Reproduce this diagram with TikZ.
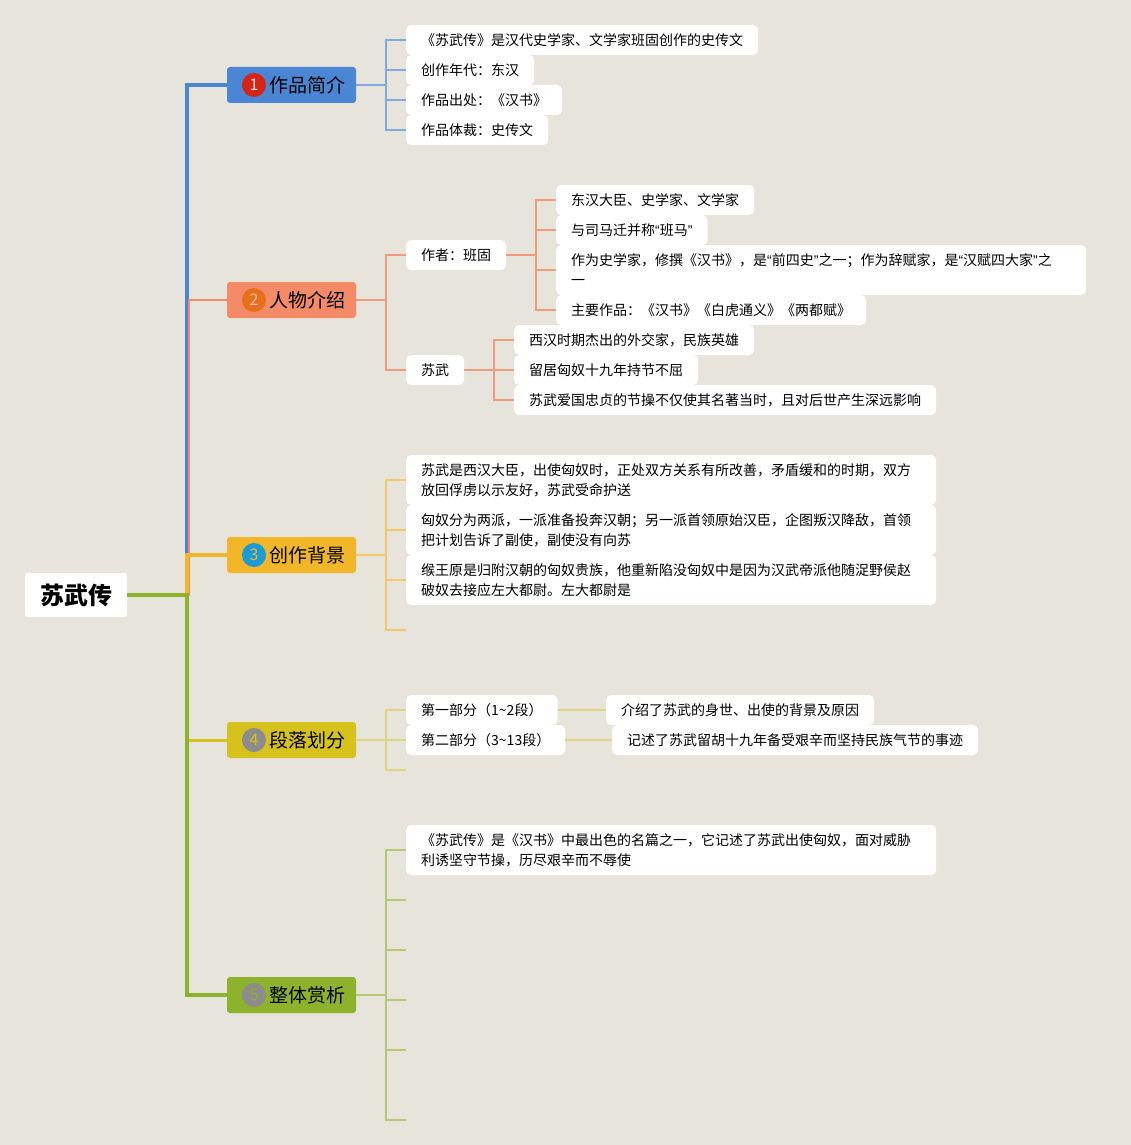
\documentclass[tikz,border=0pt]{standalone}
\usepackage{fontspec}
\setmainfont{Noto Sans CJK SC}
\newfontfamily\quotefont{Liberation Sans}
\newcommand{\cq}[1]{{\quotefont “}#1{\quotefont ”}}
\usetikzlibrary{positioning}

\definecolor{paper}{HTML}{E7E4DC}
\definecolor{topicblue}{HTML}{4B86D5}
\definecolor{topicsalmon}{HTML}{F48A67}
\definecolor{topicamber}{HTML}{F2B729}
\definecolor{topicolive}{HTML}{D5C21D}
\definecolor{topicgreen}{HTML}{8DB22B}
\definecolor{twigblue}{HTML}{82A9DE}
\definecolor{twigsalmon}{HTML}{F09A7E}
\definecolor{twigamber}{HTML}{F4C866}
\definecolor{twigolive}{HTML}{E0D480}
\definecolor{twiggreen}{HTML}{B5C874}
\definecolor{badgered}{HTML}{D62415}
\definecolor{badgeorange}{HTML}{E8701C}
\definecolor{badgeblue}{HTML}{1C9AD6}
\definecolor{badgegray}{HTML}{8C8C8C}

\begin{document}
\begin{tikzpicture}[
    x=1pt, y=-1pt,
    root/.style={fill=white, rounded corners=2pt, minimum width=102pt, minimum height=44pt,
      font=\fontsize{24}{28}\selectfont\bfseries},
    topic/.style={rounded corners=3pt, minimum width=129pt, minimum height=36pt, inner sep=0pt,
      font=\fontsize{19}{22}\selectfont},
    badge/.style={circle, minimum size=24pt, inner sep=0pt, font=\fontsize{16}{18}\selectfont},
    leaf/.style={fill=white, rounded corners=5pt, anchor=west, minimum height=30pt,
      inner xsep=15pt, inner ysep=0pt, font=\fontsize{14}{20}\selectfont},
    para/.style={leaf, minimum height=50pt, text width=500pt, align=left},
    trunk/.style={line width=4pt},
    twig/.style={line width=1.5pt}
  ]
    \fill[paper] (0,0) rectangle (1131,1145);
    \useasboundingbox (0,0) rectangle (1131,1145);

    % centre and main topics
    \node[root] (root) at (76,595) {苏武传};
    \coordinate (spine) at (187,595);
    \coordinate (spine2) at (189,595);

    \node[topic, fill=topicblue] (intro) at (291.5,85) {\hspace{31pt}作品简介};
    \node[topic, fill=topicsalmon] (people) at (291.5,300) {\hspace{31pt}人物介绍};
    \node[topic, fill=topicamber] (backgr) at (291.5,555) {\hspace{31pt}创作背景};
    \node[topic, fill=topicolive] (parts) at (291.5,740) {\hspace{31pt}段落划分};
    \node[topic, fill=topicgreen] (review) at (291.5,995) {\hspace{31pt}整体赏析};

    \node[badge, fill=badgered, text=white!85!red] (num1) at (254,85) {1};
    \node[badge, fill=badgeorange, text=topicsalmon!60!white] (num2) at (254,300) {2};
    \node[badge, fill=badgeblue, text=topicamber] (num3) at (254,555) {3};
    \node[badge, fill=badgegray, text=topicolive] (num4) at (254,740) {4};
    \node[badge, fill=badgegray, text=topicgreen] (num5) at (254,995) {5};

    \draw[trunk, topicblue] (root.east) -- (spine) |- (intro);
    \draw[line width=2pt, topicsalmon] (root.east) -- (spine2) |- (people);
    \draw[trunk, topicamber] (root.east) -- (spine) |- (backgr);
    \draw[line width=3pt, topicolive] (root.east) -- (spine) |- (parts);
    \draw[trunk, topicgreen] (root.east) -- (spine) |- (review);

    % 作品简介
    \coordinate (introhub) at (386,85);
    \node[leaf] (author) at (406,40) {《苏武传》是汉代史学家、文学家班固创作的史传文};
    \node[leaf] (era) at (406,70) {创作年代：东汉};
    \node[leaf] (source) at (406,100) {作品出处：《汉书》};
    \node[leaf] (genre) at (406,130) {作品体裁：史传文};
    \draw[twig, twigblue] (intro.east) -- (introhub);
    \foreach \n in {author,era,source,genre}
      \draw[twig, twigblue] (introhub) |- (\n);

    % 人物介绍
    \coordinate (peoplehub) at (386,300);
    \node[leaf] (bangu) at (406,255) {作者：班固};
    \node[leaf] (suwu) at (406,370) {苏武};
    \draw[twig, twigsalmon] (people.east) -- (peoplehub);
    \draw[twig, twigsalmon] (peoplehub) |- (bangu);
    \draw[twig, twigsalmon] (peoplehub) |- (suwu);

    \coordinate (banguhub) at (536,255);
    \node[leaf] (bgrole) at (556,200) {东汉大臣、史学家、文学家};
    \node[leaf] (bgname) at (556,230) {与司马迁并称\cq{班马}};
    \node[para] (bgfame) at (556,270) {作为史学家，修撰《汉书》，是\cq{前四史}之一；作为辞赋家，是\cq{汉赋四大家}之\\一};
    \node[leaf] (bgworks) at (556,310) {主要作品：《汉书》《白虎通义》《两都赋》};
    \draw[twig, twigsalmon] (bangu.east) -- (banguhub);
    \foreach \n in {bgrole,bgname,bgfame,bgworks}
      \draw[twig, twigsalmon] (banguhub) |- (\n);

    \coordinate (suwuhub) at (494,370);
    \node[leaf] (swrole) at (514,340) {西汉时期杰出的外交家，民族英雄};
    \node[leaf] (swstay) at (514,370) {留居匈奴十九年持节不屈};
    \node[leaf] (swfame) at (514,400) {苏武爱国忠贞的节操不仅使其名著当时，且对后世产生深远影响};
    \draw[twig, twigsalmon] (suwu.east) -- (suwuhub);
    \foreach \n in {swrole,swstay,swfame}
      \draw[twig, twigsalmon] (suwuhub) |- (\n);

    % 创作背景
    \coordinate (backgrhub) at (386,555);
    \node[para] (bgone) at (406,480) {苏武是西汉大臣，出使匈奴时，正处双方关系有所改善，矛盾缓和的时期，双方\\放回俘虏以示友好，苏武受命护送};
    \node[para] (bgtwo) at (406,530) {匈奴分为两派，一派准备投奔汉朝；另一派首领原始汉臣，企图叛汉降敌，首领\\把计划告诉了副使，副使没有向苏};
    \node[para] (bgthree) at (406,580) {缑王原是归附汉朝的匈奴贵族，他重新陷没匈奴中是因为汉武帝派他随浞野侯赵\\破奴去接应左大都尉。左大都尉是};
    \coordinate (bgfour) at (406,630);
    \draw[twig, twigamber] (backgr.east) -- (backgrhub);
    \foreach \n in {bgone,bgtwo,bgthree,bgfour}
      \draw[twig, twigamber] (backgrhub) |- (\n);

    % 段落划分
    \coordinate (partshub) at (386,740);
    \node[leaf] (partone) at (406,710) {第一部分（1\textasciitilde2段）};
    \node[leaf] (parttwo) at (406,740) {第二部分（3\textasciitilde13段）};
    \coordinate (partthree) at (406,770);
    \node[leaf] (sumone) at (606,710) {介绍了苏武的身世、出使的背景及原因};
    \node[leaf] (sumtwo) at (612,740) {记述了苏武留胡十九年备受艰辛而坚持民族气节的事迹};
    \draw[twig, twigolive] (parts.east) -- (partshub);
    \foreach \n in {partone,parttwo,partthree}
      \draw[twig, twigolive] (partshub) |- (\n);
    \draw[twig, twigolive] (partone) -- (sumone);
    \draw[twig, twigolive] (parttwo) -- (sumtwo);

    % 整体赏析
    \coordinate (reviewhub) at (386,995);
    \node[para] (rvone) at (406,850) {《苏武传》是《汉书》中最出色的名篇之一，它记述了苏武出使匈奴，面对威胁\\利诱坚守节操，历尽艰辛而不辱使};
    \coordinate (rvtwo) at (406,900);
    \coordinate (rvthree) at (406,950);
    \coordinate (rvfour) at (406,1000);
    \coordinate (rvfive) at (406,1050);
    \coordinate (rvsix) at (406,1120);
    \draw[twig, twiggreen] (review.east) -- (reviewhub);
    \foreach \n in {rvone,rvtwo,rvthree,rvfour,rvfive,rvsix}
      \draw[twig, twiggreen] (reviewhub) |- (\n);
  \end{tikzpicture}
\end{document}
